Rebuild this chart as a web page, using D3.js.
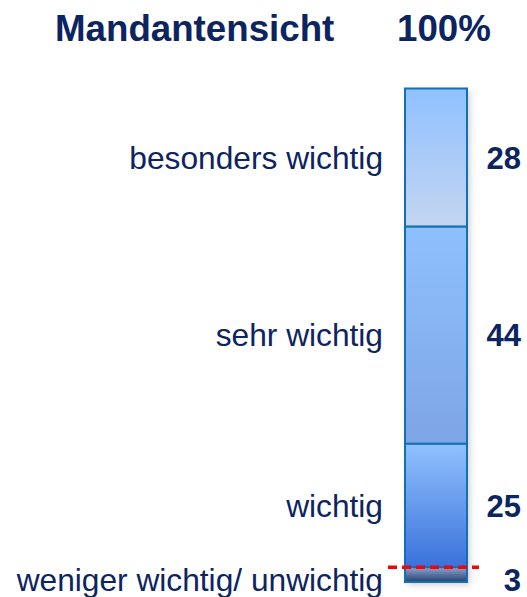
<!DOCTYPE html>
<html>
<head>
<meta charset="utf-8">
<script src="https://cdn.jsdelivr.net/npm/d3@7"></script>
<style>
  body { margin: 0; background: #fff; }
  svg { display: block; font-family: "Liberation Sans", Arial, sans-serif; }
</style>
</head>
<body>
<div id="chart"></div>
<script>
// categories from top to bottom of the stacked bar
const categories = ["besonders wichtig", "sehr wichtig", "wichtig", "weniger wichtig/ unwichtig"];
const values = [28, 44, 25, 3];
const title = "Mandantensicht";
const totalLabel = "100%";

// gradient stops per segment (top colour, bottom colour)
const gradTop = ["#90c1ff", "#8fc0fe", "#90c1ff", "#8ea6cf"];
const gradBottom = ["#c3d5f1", "#7ea5e5", "#3a72da", "#253f72"];

const W = 527, H = 597;
const navy = "#0c2460";

const svg = d3.select("#chart").append("svg")
    .attr("width", W)
    .attr("height", H);

const defs = svg.append("defs");
categories.forEach((c, i) => {
    const g = defs.append("linearGradient")
        .attr("id", "grad" + i)
        .attr("x1", 0).attr("y1", 0).attr("x2", 0).attr("y2", 1);
    g.append("stop").attr("offset", "0%").attr("stop-color", gradTop[i]);
    g.append("stop").attr("offset", "100%").attr("stop-color", gradBottom[i]);
});

const shadow = defs.append("filter").attr("id", "shadow")
    .attr("x", "-20%").attr("y", "-5%").attr("width", "150%").attr("height", "115%");
shadow.append("feDropShadow")
    .attr("dx", 3).attr("dy", 3).attr("stdDeviation", 3)
    .attr("flood-color", "#000").attr("flood-opacity", 0.18);

// stack the values
let acc = 100;
const stacked = values.map((v, i) => {
    const d = {label: categories[i], value: v, top: acc, bottom: acc - v, i: i};
    acc -= v;
    return d;
});

const y = d3.scaleLinear().domain([0, 100]).range([582, 88.5]);
const x = d3.scaleBand().domain(["Mandantensicht"]).range([405, 467]).padding(0);

const barX = x("Mandantensicht");
const barW = x.bandwidth();

// shadow behind the full bar
svg.append("rect")
    .attr("x", barX)
    .attr("y", y(100))
    .attr("width", barW)
    .attr("height", y(0) - y(100))
    .attr("fill", "#fff")
    .attr("filter", "url(#shadow)");

svg.selectAll(".seg")
    .data(stacked)
    .enter().append("rect")
    .attr("class", "seg")
    .attr("x", barX)
    .attr("y", d => y(d.top))
    .attr("width", barW)
    .attr("height", d => y(d.bottom) - y(d.top))
    .attr("fill", d => `url(#grad${d.i})`)
    .attr("stroke", "#1270b5")
    .attr("stroke-width", 2);

// red dashed line on top of the smallest segment
const last = stacked[stacked.length - 1];
svg.append("line")
    .attr("x1", barX - 17)
    .attr("x2", barX + barW + 12)
    .attr("y1", y(last.top))
    .attr("y2", y(last.top))
    .attr("stroke", "#ff0000")
    .attr("stroke-width", 3.5)
    .attr("stroke-dasharray", "9,5");

// label positions: segment centre, the tiny last one pushed down a little
const labelY = d => {
    const mid = (y(d.top) + y(d.bottom)) / 2;
    return d.i === stacked.length - 1 ? mid + 16 : mid + 11;
};

svg.selectAll(".cat")
    .data(stacked)
    .enter().append("text")
    .attr("class", "cat")
    .attr("x", barX - 22)
    .attr("y", labelY)
    .attr("text-anchor", "end")
    .attr("font-size", 31.7)
    .attr("fill", navy)
    .text(d => d.label);

svg.selectAll(".val")
    .data(stacked)
    .enter().append("text")
    .attr("class", "val")
    .attr("x", 521)
    .attr("y", labelY)
    .attr("text-anchor", "end")
    .attr("font-size", 31)
    .attr("font-weight", "bold")
    .attr("fill", navy)
    .text(d => d.value);

svg.append("text")
    .attr("x", 55)
    .attr("y", 41)
    .attr("font-size", 36.7)
    .attr("font-weight", "bold")
    .attr("fill", navy)
    .text(title);

svg.append("text")
    .attr("x", 397)
    .attr("y", 41)
    .attr("font-size", 36.7)
    .attr("font-weight", "bold")
    .attr("fill", navy)
    .text(totalLabel);
</script>
</body>
</html>
